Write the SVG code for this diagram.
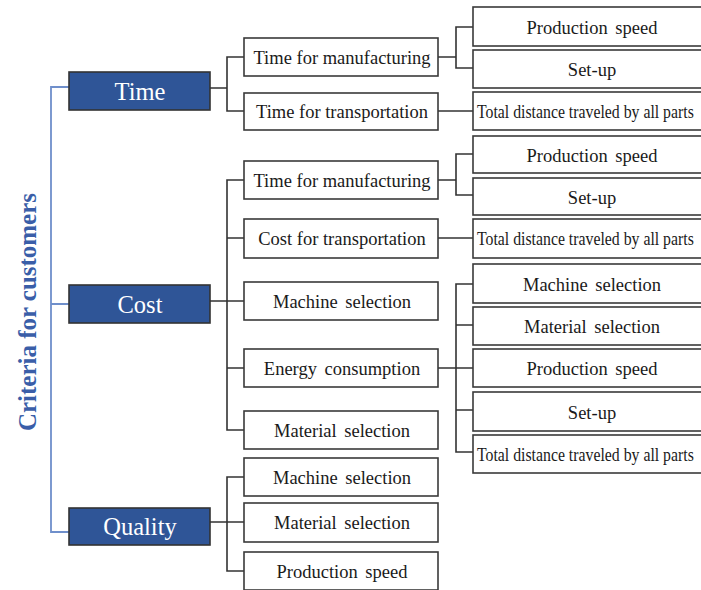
<svg xmlns="http://www.w3.org/2000/svg" width="701" height="590" viewBox="0 0 701 590">
<style>
.bx{fill:#fff;stroke:#3a3a3a;stroke-width:1.6}
.bb{fill:#2F5597;stroke:#333;stroke-width:1.6}
.t{font-family:"Liberation Serif","Times New Roman",serif;font-size:18.5px;fill:#1a1a1a;text-anchor:middle}
.ws{word-spacing:3px}
.tl{font-family:"Liberation Serif","Times New Roman",serif;font-size:15.8px;fill:#1a1a1a}
.tw{font-family:"Liberation Serif","Times New Roman",serif;font-size:24.5px;fill:#fff;text-anchor:middle}
.ln{fill:none;stroke:#333;stroke-width:1.6}
.bl{fill:none;stroke:#6F8FCB;stroke-width:1.8}
</style>
<rect width="701" height="590" fill="#fff"/>
<text x="36" y="312" transform="rotate(-90 36 312)" text-anchor="middle" font-family="Liberation Serif, Times New Roman, serif" font-weight="bold" font-size="26" fill="#3A5EA8" textLength="238" lengthAdjust="spacingAndGlyphs">Criteria for customers</text>
<g id="connectors">
<path class="bl" d="M69,87 H51 V532 H69 M51,304 H69"/>
<path class="ln" d="M210,88 H227 M244,57 H227 V111 H244"/>
<path class="ln" d="M438,57 H456 M473,27 H456 V68 H473"/>
<path class="ln" d="M438,111 H473"/>
<path class="ln" d="M210,301 H244 M244,180 H227 V430 H244 M227,238 H244 M227,368 H244"/>
<path class="ln" d="M438,180 H456 M473,154 H456 V195 H473"/>
<path class="ln" d="M438,238 H473"/>
<path class="ln" d="M438,368 H473 M473,284 H456 V452 H473 M456,325 H473 M456,410 H473"/>
<path class="ln" d="M210,522 H244 M244,477 H227 V571 H244"/>
</g>
<g id="time"><rect class="bb" x="69" y="72" width="141" height="38"/><text class="tw" x="140" y="100">Time</text></g>
<g id="cost"><rect class="bb" x="69" y="285" width="141" height="38"/><text class="tw" x="140" y="312.5">Cost</text></g>
<g id="quality"><rect class="bb" x="69" y="508" width="141" height="37"/><text class="tw" x="140" y="535">Quality</text></g>

<g id="t1"><rect class="bx" x="244" y="38" width="194" height="38"/><text class="t" x="342" y="64">Time for manufacturing</text></g>
<g id="t2"><rect class="bx" x="244" y="93" width="194" height="37"/><text class="t" x="342" y="118">Time for transportation</text></g>
<g id="c1"><rect class="bx" x="244" y="161" width="194" height="38"/><text class="t" x="342" y="187">Time for manufacturing</text></g>
<g id="c2"><rect class="bx" x="244" y="219" width="194" height="39"/><text class="t" x="342" y="245">Cost for transportation</text></g>
<g id="c3"><rect class="bx" x="244" y="282" width="194" height="38"/><text class="t ws" x="342" y="308">Machine selection</text></g>
<g id="c4"><rect class="bx" x="244" y="349" width="194" height="38"/><text class="t ws" x="342" y="375">Energy consumption</text></g>
<g id="c5"><rect class="bx" x="244" y="411" width="194" height="38"/><text class="t ws" x="342" y="437">Material selection</text></g>
<g id="q1"><rect class="bx" x="244" y="458" width="194" height="38"/><text class="t ws" x="342" y="484">Machine selection</text></g>
<g id="q2"><rect class="bx" x="244" y="503" width="194" height="39"/><text class="t ws" x="342" y="529">Material selection</text></g>
<g id="q3"><rect class="bx" x="244" y="552" width="194" height="38"/><text class="t ws" x="342" y="578">Production speed</text></g>

<g id="t1a"><rect class="bx" x="473" y="7" width="238" height="39"/><text class="t ws" x="592" y="33.5">Production speed</text></g>
<g id="t1b"><rect class="bx" x="473" y="50" width="238" height="38"/><text class="t" x="592" y="76">Set-up</text></g>
<g id="t2a"><rect class="bx" x="473" y="92" width="238" height="38"/><text class="tl" transform="translate(477 118) scale(1 1.15)">Total distance traveled by all parts</text></g>
<g id="c1a"><rect class="bx" x="473" y="136" width="238" height="37"/><text class="t ws" x="592" y="161.5">Production speed</text></g>
<g id="c1b"><rect class="bx" x="473" y="178" width="238" height="37"/><text class="t" x="592" y="203.5">Set-up</text></g>
<g id="c2a"><rect class="bx" x="473" y="219" width="238" height="39"/><text class="tl" transform="translate(477 245) scale(1 1.15)">Total distance traveled by all parts</text></g>
<g id="c4a"><rect class="bx" x="473" y="264" width="238" height="39"/><text class="t ws" x="592" y="290.5">Machine selection</text></g>
<g id="c4b"><rect class="bx" x="473" y="307" width="238" height="38"/><text class="t ws" x="592" y="333">Material selection</text></g>
<g id="c4c"><rect class="bx" x="473" y="349" width="238" height="38"/><text class="t ws" x="592" y="375">Production speed</text></g>
<g id="c4d"><rect class="bx" x="473" y="392" width="238" height="39"/><text class="t" x="592" y="418.5">Set-up</text></g>
<g id="c4e"><rect class="bx" x="473" y="435" width="238" height="38"/><text class="tl" transform="translate(477 461) scale(1 1.15)">Total distance traveled by all parts</text></g>
</svg>
